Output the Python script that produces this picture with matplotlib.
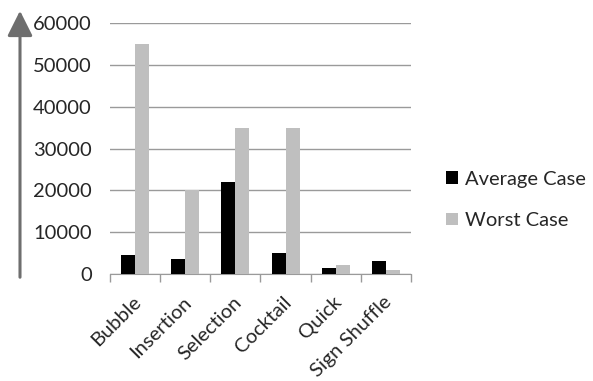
import matplotlib
matplotlib.use("Agg")
import matplotlib.pyplot as plt
from matplotlib.patches import Patch, FancyArrowPatch
from matplotlib.transforms import ScaledTranslation
import numpy as np

categories = ["Bubble", "Insertion", "Selection", "Cocktail", "Quick", "Sign Shuffle"]
average_case = [4500, 3500, 22000, 5000, 1400, 3000]
worst_case = [55000, 20000, 35000, 35000, 2100, 1000]
series_names = ["Average Case", "Worst Case"]
y_ticks = [0, 10000, 20000, 30000, 40000, 50000, 60000]

plt.rcParams["font.family"] = ["Lato", "DejaVu Sans"]
text_color = "#262626"

fig = plt.figure(figsize=(5.93, 3.81), dpi=100)
ax = fig.add_axes([110 / 593, 1 - 274 / 381, 301 / 593, 251 / 381])

x = np.arange(len(categories))
w = 0.28
ax.bar(x - w / 2, average_case, width=w, color="black", zorder=3)
ax.bar(x + w / 2, worst_case, width=w, color="#bfbfbf", zorder=3)

ax.set_xlim(-0.5, len(categories) - 0.5)
ax.set_ylim(0, 60000)
ax.set_yticks(y_ticks)
ax.set_yticklabels([str(v) for v in y_ticks], fontsize=14.5, color=text_color)
ax.yaxis.grid(True, color="#9a9a9a", linewidth=1.0, zorder=0)
ax.tick_params(axis="y", length=0, pad=13)

ax.set_xticks(np.arange(-0.5, len(categories), 1.0))
ax.set_xticklabels([])
ax.set_xticks(x, minor=True)
ax.set_xticklabels(categories, minor=True, rotation=45, ha="right",
                   rotation_mode="anchor", fontsize=14.5, color=text_color)
ax.tick_params(axis="x", which="major", length=6, color="#9a9a9a", width=1)
ax.tick_params(axis="x", which="minor", length=0, pad=14)
shift = ScaledTranslation(-2 / 72, 0, fig.dpi_scale_trans)
for lbl in ax.get_xticklabels(minor=True):
    lbl.set_transform(lbl.get_transform() + shift)

for side in ["top", "right", "left"]:
    ax.spines[side].set_visible(False)
ax.spines["bottom"].set_color("#9a9a9a")

# vertical arrow at the left edge
fig.add_artist(FancyArrowPatch(
    (20 / 593, 1 - 280 / 381), (20 / 593, 1 - 8 / 381),
    transform=fig.transFigure, arrowstyle="-|>,head_length=7,head_width=3.5",
    color="#6e6e6e", linewidth=2.2, mutation_scale=2.2))

handles = [Patch(facecolor="black"), Patch(facecolor="#bfbfbf")]
fig.legend(handles, series_names, loc="center left",
           bbox_to_anchor=(428 / 593, 1 - 200 / 381), frameon=False,
           fontsize=14.5, handlelength=0.6, handleheight=0.6,
           handletextpad=0.35, labelspacing=1.2, labelcolor=text_color)

fig.savefig("out.png", dpi=100, facecolor="white")
